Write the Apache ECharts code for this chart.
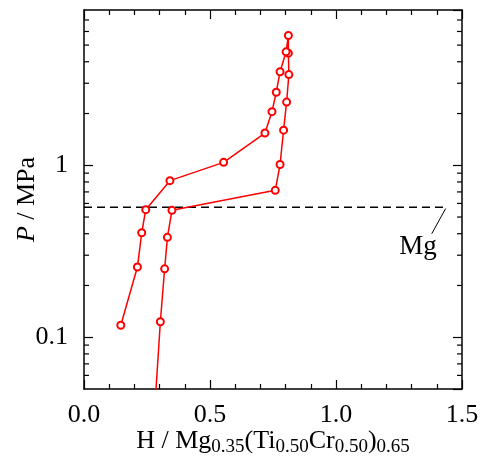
<!DOCTYPE html>
<html>
<head>
<meta charset="utf-8">
<script src="https://cdn.jsdelivr.net/npm/echarts@6/dist/echarts.min.js"></script>
<style>
html, body { margin: 0; padding: 0; background: #fff; }
#chart { width: 484px; height: 461px; }
</style>
</head>
<body>
<div id="chart"></div>
<script>
// absorption branch (bottom -> top)
var absH = [0.279, 0.303, 0.320, 0.331, 0.349, 0.759, 0.778, 0.792, 0.804, 0.813, 0.811, 0.811];
var absP = [0.035, 0.123, 0.250, 0.381, 0.547, 0.715, 1.01, 1.60, 2.33, 3.37, 4.49, 5.69];
// desorption branch (top -> bottom)
var desH = [0.802, 0.778, 0.763, 0.746, 0.718, 0.554, 0.341, 0.245, 0.229, 0.212, 0.146];
var desP = [4.57, 3.50, 2.66, 2.05, 1.54, 1.04, 0.814, 0.552, 0.405, 0.256, 0.1175];
// Mg plateau pressure
var mgH = [0, 1.44];
var mgP = 0.57;
var leaderH = [1.435, 1.380];
var leaderP = [0.56, 0.40];
var minorP = [0.06, 0.07, 0.08, 0.09, 0.2, 0.3, 0.4, 0.5, 0.6, 0.7, 0.8, 0.9, 2, 3, 4, 5, 6, 7];

var font = 'Liberation Serif';
var curve = absH.map(function (h, i) { return [h, absP[i]]; })
  .concat(desH.map(function (h, i) { return [h, desP[i]]; }));

var myChart = echarts.init(document.getElementById('chart'));

function xAxisBase(pos) {
  return {
    type: 'value', position: pos, min: 0, max: 1.5, interval: 0.5,
    axisLine: { show: true, onZero: false, lineStyle: { color: '#000', width: 1.5 } },
    axisTick: { show: true, inside: true, length: 9, lineStyle: { color: '#000', width: 1.2 } },
    minorTick: { show: true, splitNumber: 5, length: 5, lineStyle: { color: '#000', width: 1.2 } },
    splitLine: { show: false }
  };
}
function yAxisBase(pos) {
  return {
    type: 'log', logBase: 10, position: pos, min: 0.05, max: 8,
    axisLine: { show: true, onZero: false, lineStyle: { color: '#000', width: 1.5 } },
    axisTick: { show: true, inside: true, length: 9, lineStyle: { color: '#000', width: 1.2 } },
    splitLine: { show: false }
  };
}

var xb = xAxisBase('bottom');
xb.axisLabel = { show: true, margin: 13, fontFamily: font, fontSize: 26, color: '#000',
  formatter: function (v) { return v.toFixed(1); } };
xb.name = 'H / Mg{s|0.35}(Ti{s|0.50}Cr{s|0.50}){s|0.65}';
xb.nameLocation = 'middle';
xb.nameGap = 36;
xb.nameMoveOverlap = false;
xb.nameTextStyle = { fontFamily: font, fontSize: 26, color: '#000',
  rich: { s: { fontFamily: font, fontSize: 19, color: '#000', verticalAlign: 'bottom', padding: [13, 0, 0, 0] } } };
var xt = xAxisBase('top');
xt.axisLabel = { show: false };

var yl = yAxisBase('left');
yl.axisLabel = { show: true, margin: 16, fontFamily: font, fontSize: 26, color: '#000',
  showMinLabel: false, showMaxLabel: false,
  formatter: function (v) { return Math.abs(v - 1) < 1e-9 ? '1' : (Math.abs(v - 0.1) < 1e-9 ? '0.1' : ''); } };
yl.name = '{i|P} / MPa';
yl.nameLocation = 'middle';
yl.nameGap = 44;
yl.nameMoveOverlap = false;
yl.nameTextStyle = { fontFamily: font, fontSize: 26, color: '#000',
  rich: { i: { fontFamily: font, fontSize: 26, fontStyle: 'italic', color: '#000' } } };
var yr = yAxisBase('right');
yr.axisLabel = { show: false };

function tickRender(side) {
  return function (params, api) {
    var p = api.coord([side === 'left' ? 0 : 1.5, api.value(1)]);
    var d = side === 'left' ? 5 : -5;
    return { type: 'line', shape: { x1: p[0], y1: p[1], x2: p[0] + d, y2: p[1] },
      style: { stroke: '#000', lineWidth: 1.2 } };
  };
}
var tickData = minorP.map(function (v) { return [0, v]; });

var option = {
  animation: false,
  grid: { left: 84, right: 22, top: 10, bottom: 72, outerBoundsMode: 'none' },
  xAxis: [xb, xt],
  yAxis: [yl, yr],
  series: [
    { type: 'line', data: mgH.map(function (h) { return [h, mgP]; }), symbol: 'none',
      lineStyle: { color: '#000', width: 1.5, type: [8, 5] }, silent: true },
    { type: 'line', data: leaderH.map(function (h, i) { return [h, leaderP[i]]; }), symbol: 'none',
      lineStyle: { color: '#000', width: 1 }, silent: true },
    { type: 'scatter', data: [[1.325, 0.333]], symbolSize: 0, silent: true,
      label: { show: true, position: 'inside', formatter: 'Mg', fontFamily: font, fontSize: 27,
        color: '#000', textBorderWidth: 0, opacity: 1 } },
    { type: 'line', data: curve, symbol: 'emptyCircle', symbolSize: 7,
      lineStyle: { color: '#ff0000', width: 1.5 },
      itemStyle: { color: '#ff0000', borderColor: '#ff0000', borderWidth: 1.5 } },
    { type: 'custom', data: tickData, renderItem: tickRender('left'), silent: true },
    { type: 'custom', data: tickData, renderItem: tickRender('right'), silent: true }
  ]
};
myChart.setOption(option);
</script>
</body>
</html>
